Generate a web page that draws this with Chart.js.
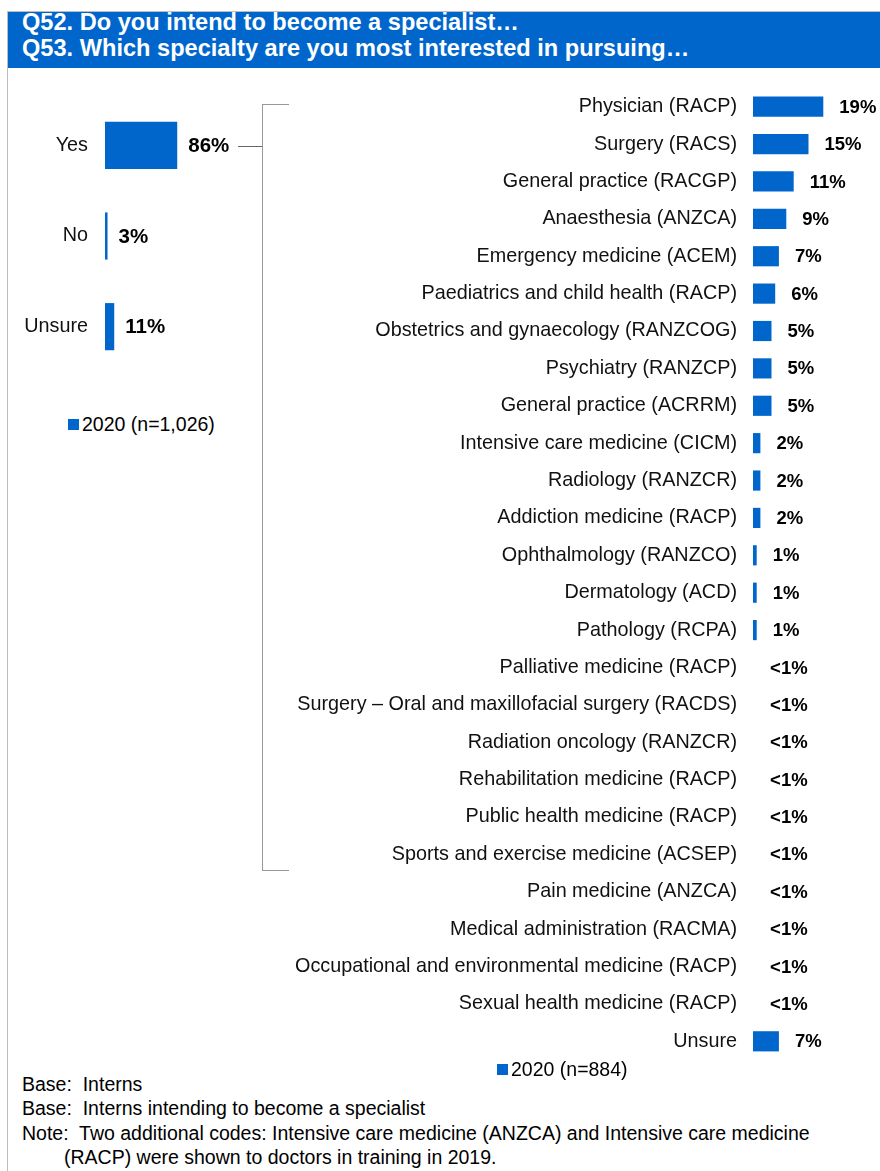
<!DOCTYPE html>
<html>
<head>
<meta charset="utf-8">
<script src="https://cdn.jsdelivr.net/npm/chart.js@4.4.1/dist/chart.umd.min.js"></script>
<style>
  html, body { margin: 0; padding: 0; background: #fff; }
  body { width: 880px; height: 1171px; position: relative; overflow: hidden;
         font-family: "Liberation Sans", Arial, sans-serif; color: #000; }
  .frame { position: absolute; left: 7px; top: 11px; width: 880px; height: 1200px;
           border-left: 1px solid #bdbdbd; border-top: 1px solid #bdbdbd; }
  .header { position: absolute; left: 8px; top: 12px; width: 872px; height: 56px;
            background: #0066CC; color: #fff; font-weight: bold; font-size: 23.6px; }
  .header div { position: absolute; left: 14px; white-space: nowrap; line-height: 26px; }
  .hline { position: absolute; height: 0; border-top: 1.5px solid #999; }
  .vline { position: absolute; width: 0; border-left: 1.5px solid #999; }
  .legend { position: absolute; font-size: 19.5px; white-space: nowrap; line-height: 20px; }
  .legend span.sw { display: inline-block; width: 11px; height: 11px; background: #0066CC;
                    margin-right: 3px; vertical-align: 1px; }
  .note { position: absolute; left: 22px; font-size: 19.5px; white-space: nowrap; line-height: 24px; }
  canvas { position: absolute; }
</style>
</head>
<body>
<div class="frame"></div>
<div class="header">
  <div style="top:-3px">Q52. Do you intend to become a specialist…</div>
  <div style="top:23px">Q53. Which specialty are you most interested in pursuing…</div>
</div>

<!-- bracket joining "Yes" to the specialty list -->
<div class="vline" style="left:262px; top:104px; height:766px"></div>
<div class="hline" style="left:262px; top:104px; width:27px"></div>
<div class="hline" style="left:262px; top:870px; width:27px"></div>
<div class="hline" style="left:238px; top:146px; width:24px; border-top-color:#666"></div>

<canvas id="intend" width="260" height="272" style="left:0; top:100px"></canvas>
<canvas id="specialty" width="600" height="972" style="left:280px; top:88px"></canvas>

<div class="legend" style="left:68px; top:414px"><span class="sw"></span>2020 (n=1,026)</div>
<div class="legend" style="left:497px; top:1059px"><span class="sw"></span>2020 (n=884)</div>

<div class="note" style="top:1072px">Base:&nbsp; Interns</div>
<div class="note" style="top:1096px">Base:&nbsp; Interns intending to become a specialist</div>
<div class="note" style="top:1121px">Note:&nbsp; Two additional codes: Intensive care medicine (ANZCA) and Intensive care medicine</div>
<div class="note" style="top:1145px; left:64px">(RACP) were shown to doctors in training in 2019.</div>

<script>
// Q52
var intendLabels = ['Yes', 'No', 'Unsure'];
var intendValues = [86, 3, 11];

// Q53
var specialtyLabels = [
  'Physician (RACP)',
  'Surgery (RACS)',
  'General practice (RACGP)',
  'Anaesthesia (ANZCA)',
  'Emergency medicine (ACEM)',
  'Paediatrics and child health (RACP)',
  'Obstetrics and gynaecology (RANZCOG)',
  'Psychiatry (RANZCP)',
  'General practice (ACRRM)',
  'Intensive care medicine (CICM)',
  'Radiology (RANZCR)',
  'Addiction medicine (RACP)',
  'Ophthalmology (RANZCO)',
  'Dermatology (ACD)',
  'Pathology (RCPA)',
  'Palliative medicine (RACP)',
  'Surgery – Oral and maxillofacial surgery (RACDS)',
  'Radiation oncology (RANZCR)',
  'Rehabilitation medicine (RACP)',
  'Public health medicine (RACP)',
  'Sports and exercise medicine (ACSEP)',
  'Pain medicine (ANZCA)',
  'Medical administration (RACMA)',
  'Occupational and environmental medicine (RACP)',
  'Sexual health medicine (RACP)',
  'Unsure'
];
// "<1%" rows kept as small values below 1
var specialtyValues = [19, 15, 11, 9, 7, 6, 5, 5, 5, 2, 2, 2, 1, 1, 1,
                       0.3, 0.3, 0.3, 0.3, 0.3, 0.3, 0.3, 0.3, 0.3, 0.3, 7];

var BLUE = '#0066CC';
var FONT = '"Liberation Sans", Arial, sans-serif';

// draws the % label just past the end of each bar
var valueLabels = {
  id: 'valueLabels',
  afterDatasetsDraw: function(chart, args, opts) {
    var ctx = chart.ctx;
    var meta = chart.getDatasetMeta(0);
    var data = chart.data.datasets[0].data;
    ctx.save();
    ctx.font = 'bold ' + opts.size + 'px ' + FONT;
    ctx.fillStyle = '#000';
    ctx.textAlign = 'left';
    ctx.textBaseline = 'middle';
    meta.data.forEach(function(bar, i) {
      var v = data[i];
      var txt = v < 1 ? '<1%' : v + '%';
      ctx.fillText(txt, bar.x + opts.offset, bar.y + 1);
    });
    ctx.restore();
  }
};

function barChart(id, labels, values, o) {
  return new Chart(document.getElementById(id), {
    type: 'bar',
    data: {
      labels: labels,
      datasets: [{
        data: values,
        backgroundColor: function(c) { return c.raw < 1 ? 'rgba(0,0,0,0)' : BLUE; },
        borderWidth: 0,
        categoryPercentage: 1,
        barPercentage: o.thick
      }]
    },
    options: {
      indexAxis: 'y',
      responsive: false,
      animation: false,
      events: [],
      layout: { padding: { left: 0, right: o.padRight, top: 0, bottom: 0 } },
      scales: {
        x: { display: false, min: 0, max: o.max },
        y: {
          grid: { display: false, drawTicks: false },
          border: { display: false },
          ticks: { autoSkip: false, padding: o.tickPad, color: '#111',
                   font: { family: FONT, size: 19.8 } },
          afterFit: function(scale) {
            scale.width = o.axisWidth;
            // rows fill the whole canvas height
            scale.paddingTop = 0;
            scale.paddingBottom = 0;
          }
        }
      },
      plugins: {
        legend: { display: false },
        tooltip: { enabled: false },
        valueLabels: { size: o.labelSize, offset: o.offset }
      }
    },
    plugins: [valueLabels]
  });
}

barChart('intend', intendLabels, intendValues,
  { thick: 0.52, max: 100, padRight: 71, axisWidth: 105, tickPad: 17, labelSize: 20.5, offset: 11 });

barChart('specialty', specialtyLabels, specialtyValues,
  { thick: 0.54, max: 30, padRight: 16, axisWidth: 473, tickPad: 16, labelSize: 18.5, offset: 16 });
</script>
</body>
</html>
